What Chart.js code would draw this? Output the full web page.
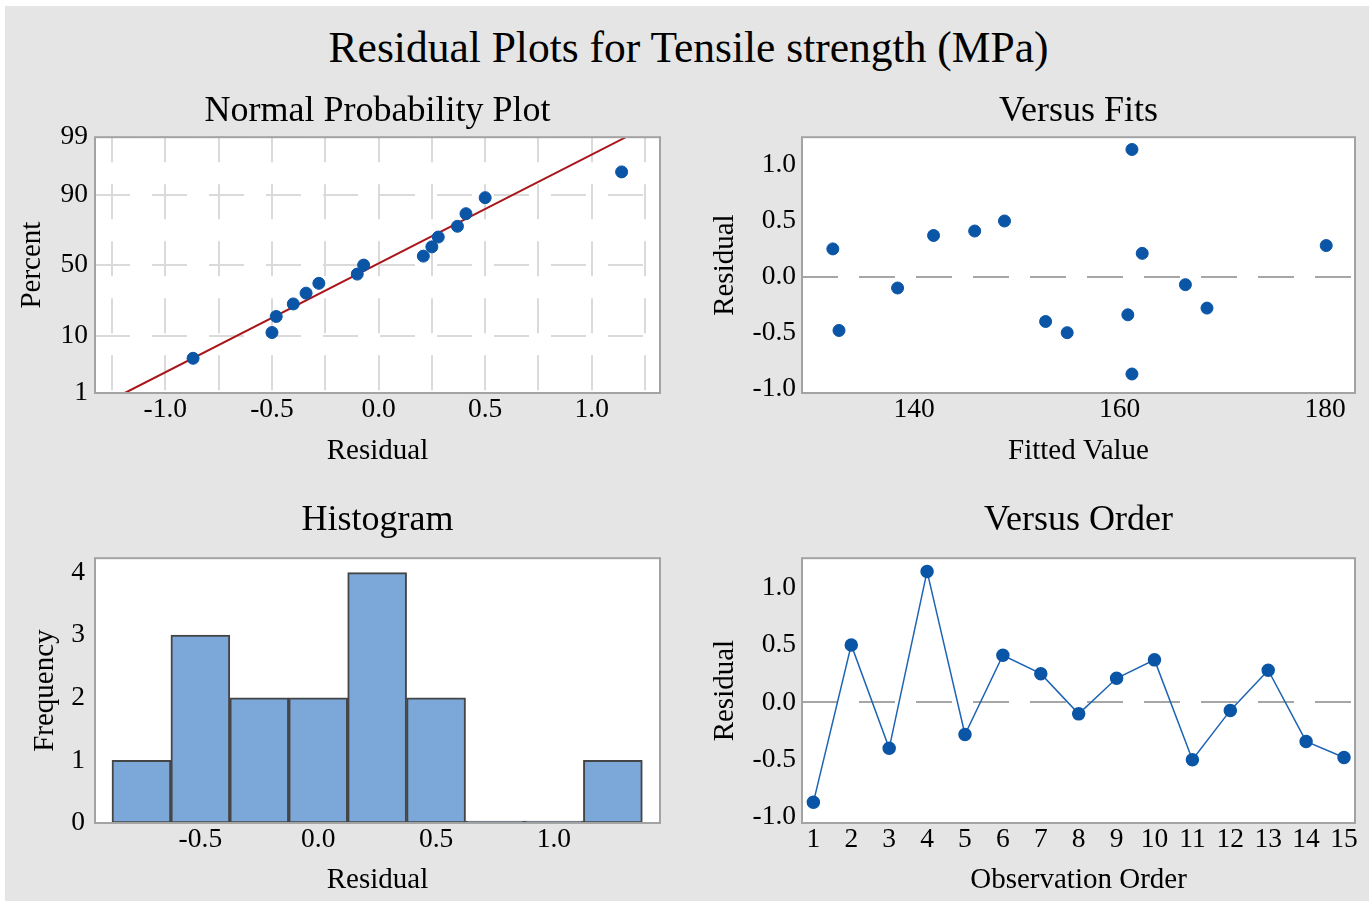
<!DOCTYPE html>
<html>
<head>
<meta charset="utf-8">
<title>Residual Plots for Tensile strength (MPa)</title>
<script src="https://cdn.jsdelivr.net/npm/chart.js@4/dist/chart.umd.min.js"></script>
<style>
  html, body { margin: 0; padding: 0; background: #ffffff; }
  #page { position: absolute; left: 5px; top: 6px; width: 1364px; height: 895px; background: #e5e5e5; }
  #main-title {
    position: absolute; left: 0; top: 22px; width: 1377px; text-align: center;
    font-family: 'Liberation Serif', 'Times New Roman', serif; font-size: 43.5px; line-height: 50px; color: #000;
  }
  canvas { position: absolute; }
</style>
</head>
<body>
<div id="page"></div>
<div id="main-title">Residual Plots for Tensile strength (MPa)</div>
<canvas id="normal-plot" width="690" height="410" style="left:0;top:70px"></canvas>
<canvas id="fits-plot" width="679" height="410" style="left:690px;top:70px"></canvas>
<canvas id="histogram" width="690" height="421" style="left:0;top:480px"></canvas>
<canvas id="order-plot" width="679" height="421" style="left:690px;top:480px"></canvas>
<script>
// residuals and fitted values, in observation order
const observationOrder = [1, 2, 3, 4, 5, 6, 7, 8, 9, 10, 11, 12, 13, 14, 15];
const residuals = [-0.87, 0.50, -0.40, 1.14, -0.28, 0.41, 0.25, -0.10, 0.21, 0.37, -0.50, -0.07, 0.28, -0.34, -0.48];
const fittedValues = [161.2, 148.8, 152.8, 161.2, 168.5, 145.9, 132.1, 138.4, 162.2, 141.9, 154.9, 166.4, 180.1, 160.8, 132.7];

// normal probability plot (percent for the sorted residuals)
const normalPercent = [4.5, 11.0, 17.5, 24.0, 30.5, 37.0, 43.5, 50.0, 56.5, 63.0, 69.5, 76.0, 82.5, 89.0, 95.5];
const fitLineResidual = [-1.19, 1.16];
const fitLinePercent = [1, 99];
const percentTicks = [1, 10, 50, 90, 99];

// histogram
const binCenters = [-0.75, -0.5, -0.25, 0, 0.25, 0.5, 0.75, 1.0, 1.25];
const binCounts = [1, 3, 2, 2, 4, 2, 0, 0, 1];

const SERIF = "'Liberation Serif', 'Times New Roman', serif";
const POINT_BLUE = '#0a55a6';

Chart.defaults.font.family = SERIF;
Chart.defaults.color = '#000000';
Chart.defaults.animation = false;
Chart.defaults.plugins.legend.display = false;
Chart.defaults.plugins.tooltip.enabled = false;

// inverse of the standard normal cdf (Acklam), used for the probability axis
function normInv(p) {
    const a = [-3.969683028665376e+01, 2.209460984245205e+02, -2.759285104469687e+02, 1.383577518672690e+02, -3.066479806614716e+01, 2.506628277459239e+00];
    const b = [-5.447609879822406e+01, 1.615858368580409e+02, -1.556989798598866e+02, 6.680131188771972e+01, -1.328068155288572e+01];
    const c = [-7.784894002430293e-03, -3.223964580411365e-01, -2.400758277161838e+00, -2.549671875525616e+00, 4.374664141464968e+00, 2.938163982698783e+00];
    const d = [7.784695709041462e-03, 3.224671290700398e-01, 2.445134137142996e+00, 3.754408661907416e+00];
    const plow = 0.02425;
    let q, r;
    if (p < plow) {
        q = Math.sqrt(-2 * Math.log(p));
        return (((((c[0] * q + c[1]) * q + c[2]) * q + c[3]) * q + c[4]) * q + c[5]) / ((((d[0] * q + d[1]) * q + d[2]) * q + d[3]) * q + 1);
    }
    if (p > 1 - plow) {
        q = Math.sqrt(-2 * Math.log(1 - p));
        return -(((((c[0] * q + c[1]) * q + c[2]) * q + c[3]) * q + c[4]) * q + c[5]) / ((((d[0] * q + d[1]) * q + d[2]) * q + d[3]) * q + 1);
    }
    q = p - 0.5;
    r = q * q;
    return (((((a[0] * r + a[1]) * r + a[2]) * r + a[3]) * r + a[4]) * r + a[5]) * q / (((((b[0] * r + b[1]) * r + b[2]) * r + b[3]) * r + b[4]) * r + 1);
}

// white plot area with a grey frame
const plotFrame = {
    id: 'plotFrame',
    beforeDraw(chart) {
        const a = chart.chartArea;
        const ctx = chart.ctx;
        ctx.save();
        ctx.fillStyle = '#ffffff';
        ctx.fillRect(a.left, a.top, a.right - a.left, a.bottom - a.top);
        ctx.restore();
    },
    afterDraw(chart) {
        const a = chart.chartArea;
        const ctx = chart.ctx;
        ctx.save();
        ctx.strokeStyle = '#a3a3a3';
        ctx.lineWidth = 2;
        ctx.strokeRect(a.left, a.top, a.right - a.left, a.bottom - a.top);
        ctx.restore();
    }
};

function panelTitle(text, padTop, padBottom) {
    return {
        display: true,
        text: text,
        fullSize: false,
        font: { size: 36, weight: 'normal' },
        padding: { top: padTop, bottom: padBottom },
    };
}

function axisTitle(text, pad) {
    return { display: true, text: text, font: { size: 29 }, padding: pad };
}

const tickFont = { size: 27.5 };
const oneDecimal = v => v.toFixed(1);
const zeroLineColor = ctx => (ctx.tick && ctx.tick.value === 0 ? '#a6a6a6' : 'rgba(0,0,0,0)');

// Normal Probability Plot
const sorted = residuals.slice().sort((a, b) => a - b);
new Chart(document.getElementById('normal-plot'), {
    type: 'scatter',
    data: {
        datasets: [
            {
                data: sorted.map((r, i) => ({ x: r, y: normInv(normalPercent[i] / 100) })),
                backgroundColor: POINT_BLUE,
                borderColor: POINT_BLUE,
                pointRadius: 6,
                order: 0,
            },
            {
                type: 'line',
                data: fitLineResidual.map((r, i) => ({ x: r, y: normInv(fitLinePercent[i] / 100) })),
                borderColor: '#a8161b',
                borderWidth: 2,
                pointRadius: 0,
                fill: false,
                order: 1,
            },
        ],
    },
    options: {
        responsive: false,
        layout: { padding: { left: 0, right: 30, top: 0, bottom: 0 } },
        plugins: { title: panelTitle('Normal Probability Plot', 19.5, 4.5) },
        scales: {
            x: {
                type: 'linear',
                min: -1.33,
                max: 1.32,
                afterFit: s => { s.height = 87; },
                ticks: {
                    stepSize: 0.25,
                    includeBounds: false,
                    autoSkip: false,
                    maxRotation: 0,
                    padding: 0,
                    font: tickFont,
                    callback: v => (Math.abs(v * 2 - Math.round(v * 2)) < 1e-9 ? v.toFixed(1) : ''),
                },
                grid: { color: '#dadada', lineWidth: 2, drawTicks: false },
                border: { display: false, dash: [35, 22], dashOffset: 10 },
                title: axisTitle('Residual', { bottom: 11 }),
            },
            y: {
                type: 'linear',
                min: normInv(0.01),
                max: normInv(0.99),
                afterFit: s => { s.width = 95; },
                afterBuildTicks: s => { s.ticks = percentTicks.map(p => ({ value: normInv(p / 100) })); },
                ticks: {
                    padding: 7,
                    font: tickFont,
                    callback: (v, i) => percentTicks[i],
                },
                grid: { color: '#dadada', lineWidth: 2, drawTicks: false },
                border: { display: false, dash: [35, 22], dashOffset: 0 },
                title: axisTitle('Percent', { top: 15 }),
            },
        },
    },
    plugins: [plotFrame],
});

// Versus Fits
new Chart(document.getElementById('fits-plot'), {
    type: 'scatter',
    data: {
        datasets: [{
            data: fittedValues.map((f, i) => ({ x: f, y: residuals[i] })),
            backgroundColor: POINT_BLUE,
            borderColor: POINT_BLUE,
            pointRadius: 6,
        }],
    },
    options: {
        responsive: false,
        layout: { padding: { left: 0, right: 14, top: 0, bottom: 0 } },
        plugins: { title: panelTitle('Versus Fits', 19.5, 4.5) },
        scales: {
            x: {
                type: 'linear',
                min: 129.1,
                max: 182.9,
                afterFit: s => { s.height = 87; },
                ticks: { stepSize: 20, includeBounds: false, maxRotation: 0, padding: 0, font: tickFont },
                grid: { display: false, drawTicks: false },
                border: { display: false },
                title: axisTitle('Fitted Value', { bottom: 11 }),
            },
            y: {
                type: 'linear',
                min: -1.04,
                max: 1.25,
                afterFit: s => { s.width = 112; },
                ticks: { stepSize: 0.5, includeBounds: false, padding: 6, font: tickFont, callback: oneDecimal },
                grid: { color: zeroLineColor, lineWidth: 2, drawTicks: false },
                border: { display: false, dash: [36, 21] },
                title: axisTitle('Residual', { top: 18 }),
            },
        },
    },
    plugins: [plotFrame],
});

// Histogram
new Chart(document.getElementById('histogram'), {
    type: 'bar',
    data: {
        datasets: [{
            data: binCenters.map((c, i) => ({ x: c, y: binCounts[i] })),
            backgroundColor: '#7ba7d9',
            borderColor: '#454545',
            borderWidth: 2,
            borderSkipped: false,
            minBarLength: 2,
            barPercentage: 1,
            categoryPercentage: 1,
        }],
    },
    options: {
        responsive: false,
        layout: { padding: { left: 0, right: 30, top: 0, bottom: 0 } },
        plugins: { title: panelTitle('Histogram', 18.5, 16.5) },
        scales: {
            x: {
                type: 'linear',
                offset: false,
                min: -0.947,
                max: 1.45,
                afterFit: s => { s.height = 78; },
                ticks: { stepSize: 0.5, includeBounds: false, maxRotation: 0, padding: 0, font: tickFont, callback: oneDecimal },
                grid: { display: false, offset: false, drawTicks: false },
                border: { display: false },
                title: axisTitle('Residual', { bottom: 3.5 }),
            },
            y: {
                type: 'linear',
                min: 0,
                max: 4.23,
                afterFit: s => { s.width = 95; },
                ticks: { stepSize: 1, includeBounds: false, padding: 10, font: tickFont },
                grid: { display: false, drawTicks: false },
                border: { display: false },
                title: axisTitle('Frequency', { top: 28 }),
            },
        },
    },
    plugins: [plotFrame],
});

// Versus Order
new Chart(document.getElementById('order-plot'), {
    type: 'line',
    data: {
        datasets: [{
            data: observationOrder.map((o, i) => ({ x: o, y: residuals[i] })),
            borderColor: '#1e64b4',
            borderWidth: 1.5,
            backgroundColor: POINT_BLUE,
            pointBackgroundColor: POINT_BLUE,
            pointBorderColor: POINT_BLUE,
            pointRadius: 6,
            fill: false,
            tension: 0,
        }],
    },
    options: {
        responsive: false,
        layout: { padding: { left: 0, right: 14, top: 0, bottom: 0 } },
        plugins: { title: panelTitle('Versus Order', 18.5, 16.5) },
        scales: {
            x: {
                type: 'linear',
                min: 0.7,
                max: 15.29,
                afterFit: s => { s.height = 78; },
                ticks: { stepSize: 1, includeBounds: false, autoSkip: false, maxRotation: 0, padding: 0, font: tickFont },
                grid: { display: false, drawTicks: false },
                border: { display: false },
                title: axisTitle('Observation Order', { bottom: 3.5 }),
            },
            y: {
                type: 'linear',
                min: -1.05,
                max: 1.255,
                afterFit: s => { s.width = 112; },
                ticks: { stepSize: 0.5, includeBounds: false, padding: 6, font: tickFont, callback: oneDecimal },
                grid: { color: zeroLineColor, lineWidth: 2, drawTicks: false },
                border: { display: false, dash: [36, 21] },
                title: axisTitle('Residual', { top: 18 }),
            },
        },
    },
    plugins: [plotFrame],
});
</script>
</body>
</html>
